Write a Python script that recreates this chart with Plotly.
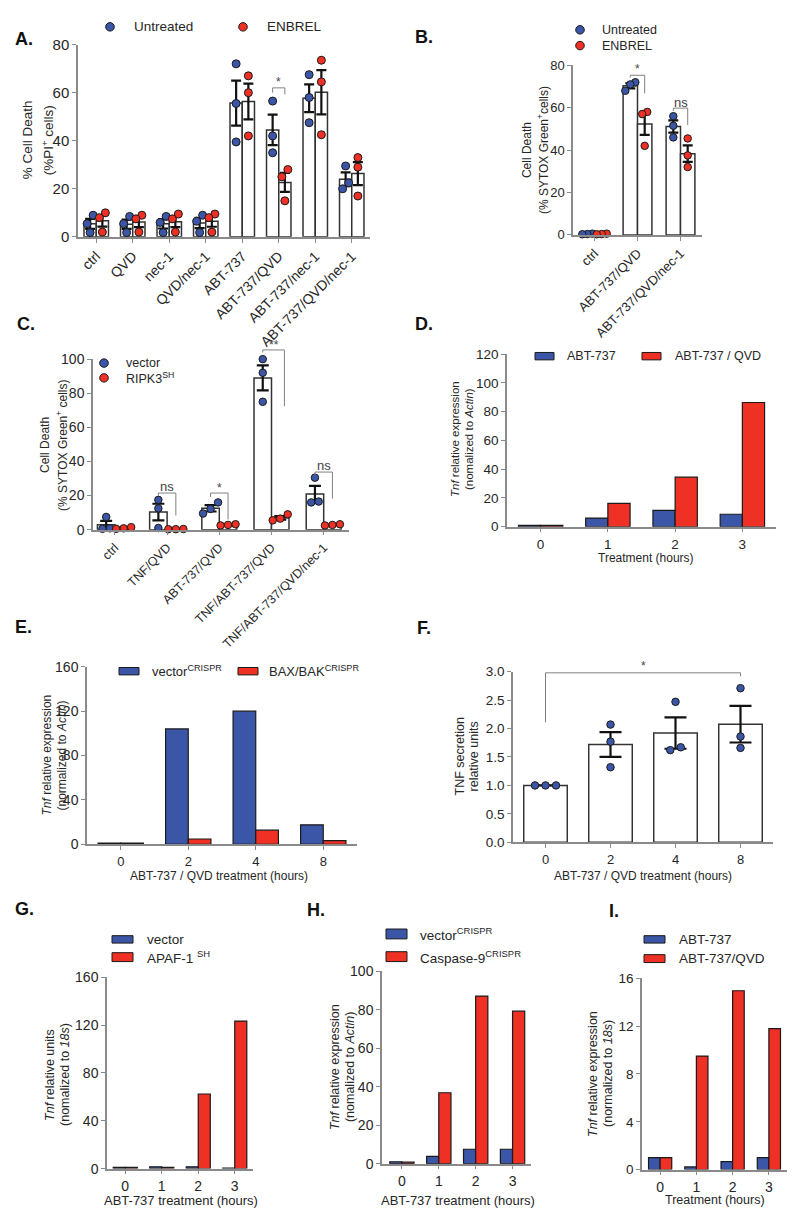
import numpy as np
import plotly.graph_objects as go

# the page places the figure at (8, 8); reference pixel coords are mapped accordingly
OX, OY = 8, 8
FW, FH = 784, 1212
BLUE = "#3B56A6"
RED = "#EE3124"
FONT = "Arial, Liberation Sans, sans-serif"
AXIS_GRAY = "#8a8a8a"
TEXT = "#262626"

# ---------------- data ----------------
A_categories = ["ctrl", "QVD", "nec-1", "QVD/nec-1", "ABT-737", "ABT-737/QVD",
                "ABT-737/nec-1", "ABT-737/QVD/nec-1"]
A_untreated = [[9.0, 5.5, 1.8], [8.5, 5.5, 1.8], [8.5, 6.0, 1.8], [9.0, 6.5, 1.8],
               [72.0, 55.5, 39.5], [56.5, 42.0, 35.0], [67.5, 58.0, 47.5], [29.5, 22.5, 20.0]]
A_enbrel = [[10.0, 8.0, 2.0], [9.0, 7.5, 2.0], [9.5, 7.5, 2.0], [9.5, 8.0, 2.0],
            [67.0, 60.0, 42.0], [28.0, 25.0, 15.0], [73.5, 64.5, 42.5], [33.0, 29.0, 17.0]]

B_categories = ["ctrl", "ABT-737/QVD", "ABT-737/QVD/nec-1"]
B_untreated = [[0.6, 0.4, 0.3], [72.0, 71.0, 68.0], [56.0, 51.5, 46.0]]
B_enbrel = [[0.6, 0.4, 0.3], [58.0, 57.0, 42.0], [45.5, 37.5, 32.0]]

C_categories = ["ctrl", "TNF/QVD", "ABT-737/QVD", "TNF/ABT-737/QVD", "TNF/ABT-737/QVD/nec-1"]
C_vector = [[7.5, 0.8, 0.5], [17.5, 12.5, 1.0], [16.0, 12.2, 9.5], [100.0, 92.0, 75.0], [30.5, 16.0, 16.5]]
C_ripk3 = [[1.5, 0.8, 0.5], [0.4, 0.3, 0.3], [3.2, 2.8, 2.5], [9.0, 6.5, 5.5], [3.2, 2.8, 2.5]]

D_hours = ["0", "1", "2", "3"]
D_abt737 = [1.0, 6.0, 11.4, 8.7]
D_abt737_qvd = [1.0, 16.2, 34.5, 86.4]

E_hours = ["0", "2", "4", "8"]
E_vector = [1.0, 104.0, 120.0, 17.5]
E_baxbak = [1.0, 4.7, 12.7, 3.2]

F_hours = ["0", "2", "4", "8"]
F_values = [[1.0, 1.0, 1.0], [2.07, 1.77, 1.32], [2.47, 1.62, 1.67], [2.71, 1.86, 1.66]]

G_hours = ["0", "1", "2", "3"]
G_vector = [1.0, 1.5, 1.5, 0.5]
G_apaf1 = [1.0, 1.0, 62.4, 123.4]

H_hours = ["0", "1", "2", "3"]
H_vector = [1.0, 3.8, 7.5, 7.5]
H_casp9 = [0.8, 36.9, 87.2, 79.3]

I_hours = ["0", "1", "2", "3"]
I_abt737 = [1.0, 0.22, 0.66, 1.0]
I_abt737_qvd = [1.0, 9.5, 14.96, 11.8]

# ---------------- layout geometry (reference pixels) ----------------
PANELS = {
    "A": dict(n=1, px=(78, 370), py=(36, 231), xr=(-0.5, 7.5), yr=(0, 80), dtick=20, tick=15, cat=14, angle=-45),
    "B": dict(n=2, px=(573, 702), py=(57, 229), xr=(-0.5, 2.5), yr=(0, 80), dtick=20, tick=13, cat=13, angle=-45),
    "C": dict(n=3, px=(93, 349), py=(355, 528), xr=(-0.42, 4.485), yr=(0, 100), dtick=20, tick=14, cat=12.5, angle=-45),
    "D": dict(n=4, px=(507, 776), py=(350, 525), xr=(-0.5, 3.5), yr=(0, 120), dtick=20, tick=13.5, cat=13.5, angle=0),
    "E": dict(n=5, px=(87, 357), py=(667, 847), xr=(-0.5, 3.5), yr=(0, 160), dtick=40, tick=14, cat=13, angle=0),
    "F": dict(n=6, px=(513, 773), py=(672, 845), xr=(-0.5, 3.5), yr=(0, 3), dtick=0.5, tick=13.5, cat=13, angle=0, fmt=".1f"),
    "G": dict(n=7, px=(107, 253), py=(982, 1176), xr=(-0.5, 3.5), yr=(0, 160), dtick=40, tick=14, cat=14, angle=0),
    "H": dict(n=8, px=(382, 531), py=(976, 1171), xr=(-0.54, 3.5), yr=(0, 100), dtick=20, tick=14, cat=14, angle=0),
    "I": dict(n=9, px=(642, 787), py=(983, 1177), xr=(-0.5, 3.5), yr=(0, 16), dtick=4, tick=13.5, cat=14, angle=0),
}

fig = go.Figure()
axes = {}
annotations = []
shapes = []


def X(px):
    return (px - OX) / FW


def Y(py):
    return 1 - (py - OY) / FH


def names(n):
    if n == 1:
        return "xaxis", "yaxis", "x", "y"
    return f"xaxis{n}", f"yaxis{n}", f"x{n}", f"y{n}"


def to_px(P, xv, yv):
    (x0, x1), (y0, y1) = P["px"], P["py"]
    (a0, a1), (b0, b1) = P["xr"], P["yr"]
    px = x0 + (xv - a0) / (a1 - a0) * (x1 - x0)
    py = y1 - (yv - b0) / (b1 - b0) * (y1 - y0)
    return px, py


def setup_axes(P, ticktext):
    xa, ya, xr_, yr_ = names(P["n"])
    common = dict(showline=True, linecolor=AXIS_GRAY, linewidth=1.5, ticks="outside", ticklen=4,
                  tickwidth=1.2, tickcolor=AXIS_GRAY, showgrid=False, zeroline=False, fixedrange=True)
    axes[xa] = dict(domain=[X(P["px"][0]), X(P["px"][1])], range=list(P["xr"]), anchor=yr_,
                    tickmode="array", tickvals=list(range(len(ticktext))), ticktext=ticktext,
                    tickangle=P["angle"], tickfont=dict(size=P["cat"], color=TEXT, family=FONT), **common)
    axes[ya] = dict(domain=[Y(P["py"][1]), Y(P["py"][0])], range=list(P["yr"]), anchor=xr_,
                    tick0=0, dtick=P["dtick"], tickformat=P.get("fmt", ""),
                    tickfont=dict(size=P["tick"], color=TEXT, family=FONT), **common)


def dodge(vals, ppu_y, diam, step):
    vals = np.asarray(vals, dtype=float)
    order = np.argsort(vals)
    offs = np.zeros(len(vals))
    clusters, cur = [], [order[0]]
    for a, b in zip(order[:-1], order[1:]):
        if (vals[b] - vals[a]) * ppu_y < diam * 1.1:
            cur.append(b)
        else:
            clusters.append(cur)
            cur = [b]
    clusters.append(cur)
    for c in clusters:
        k = len(c)
        for j, idx in enumerate(c):
            offs[idx] = (j - (k - 1) / 2) * step
    return offs


def dot_panel(P, series, colors, width, step, cap, diam=7.5):
    _, _, xr_, yr_ = names(P["n"])
    k = len(series)
    ppu_x = (P["px"][1] - P["px"][0]) / (P["xr"][1] - P["xr"][0])
    ppu_y = (P["py"][1] - P["py"][0]) / (P["yr"][1] - P["yr"][0])
    for s, (vals, col) in enumerate(zip(series, colors)):
        xs = np.arange(len(vals)) + (s - (k - 1) / 2) * width
        means = [float(np.mean(v)) for v in vals]
        sems = [float(np.std(v, ddof=1) / np.sqrt(len(v))) for v in vals]
        fig.add_trace(go.Bar(x=xs, y=means, width=width, xaxis=xr_, yaxis=yr_, showlegend=False,
                             marker=dict(color="white", line=dict(color="#333333", width=1.5)),
                             error_y=dict(type="data", array=sems, color="#111111", thickness=2.2, width=cap)))
        px_, py_ = [], []
        for i, v in enumerate(vals):
            offs = dodge(v, ppu_y, diam, step)
            px_ += list(xs[i] + offs / ppu_x)
            py_ += list(v)
        fig.add_trace(go.Scatter(x=px_, y=py_, mode="markers", xaxis=xr_, yaxis=yr_, showlegend=False,
                                 cliponaxis=False,
                                 marker=dict(size=diam, color=col, line=dict(color="#1a1a1a", width=1))))


def bar_panel(P, series, colors, width):
    _, _, xr_, yr_ = names(P["n"])
    k = len(series)
    for s, (vals, col) in enumerate(zip(series, colors)):
        xs = np.arange(len(vals)) + (s - (k - 1) / 2) * width
        fig.add_trace(go.Bar(x=xs, y=vals, width=width, xaxis=xr_, yaxis=yr_, showlegend=False,
                             marker=dict(color=col, line=dict(color="#1a1a1a", width=1.2))))


def text(x, y, t, size=13, xanchor="left", angle=0, bold=False, color=TEXT):
    if bold:
        t = f"<b>{t}</b>"
    annotations.append(dict(text=t, x=X(x), y=Y(y), xref="paper", yref="paper",
                            xanchor=xanchor, yanchor="middle", showarrow=False, textangle=angle,
                            font=dict(size=size, color=color, family=FONT)))


def legend_circle(cx, cy, color, label, tx, size=13, r=4.3):
    shapes.append(dict(type="circle", xref="paper", yref="paper", x0=X(cx - r), x1=X(cx + r),
                       y0=Y(cy + r), y1=Y(cy - r), fillcolor=color,
                       line=dict(color="#1a1a1a", width=1)))
    text(tx, cy, label, size)


def legend_rect(x0, x1, cy, h, color, label, tx, size=13):
    shapes.append(dict(type="rect", xref="paper", yref="paper", x0=X(x0), x1=X(x1),
                       y0=Y(cy + h / 2), y1=Y(cy - h / 2), fillcolor=color,
                       line=dict(color="#1a1a1a", width=1)))
    text(tx, cy, label, size)


def ytitle(xs, cy, lines, size):
    for x, t in zip(xs, lines):
        text(x, cy, t, size, xanchor="center", angle=-90)


def bracket(P, xl, xr, y, yl, yrr, label, label_y, size=12):
    pts = [to_px(P, xl, yl), to_px(P, xl, y), to_px(P, xr, y), to_px(P, xr, yrr)]
    path = "M " + " L ".join(f"{X(a):.5f},{Y(b):.5f}" for a, b in pts)
    shapes.append(dict(type="path", path=path, xref="paper", yref="paper",
                       line=dict(color="#808080", width=1)))
    lx, ly = to_px(P, (xl + xr) / 2, label_y)
    text(lx, ly, label, size, xanchor="center", color="#444444")


# ---------------- Panel A ----------------
P = PANELS["A"]
setup_axes(P, A_categories)
dot_panel(P, [A_untreated, A_enbrel], [BLUE, RED], width=0.335, step=6, cap=5, diam=8)
wA = 0.335 / 2
bracket(P, 5 - wA, 5 + wA, 62, 60, 59.3, "*", 64.3)
legend_circle(110, 18, BLUE, "Untreated", 132, 13.5)
legend_circle(243, 18, RED, "ENBREL", 265, 13.5)
ytitle([27, 48], 133, ["% Cell Death", "(%PI<sup>+</sup> cells)"], 13.5)
text(13, 30, "A.", 18, bold=True, color="#111")

# ---------------- Panel B ----------------
P = PANELS["B"]
setup_axes(P, B_categories)
dot_panel(P, [B_untreated, B_enbrel], [BLUE, RED], width=0.335, step=5, cap=5)
wB = 0.335 / 2
bracket(P, 1 - wB, 1 + wB, 75.3, 74.3, 66.8, "*", 78.3)
bracket(P, 2 - wB, 2 + wB, 59.8, 58.5, 51.8, "ns", 62.6, 13)
legend_circle(580, 21, BLUE, "Untreated", 600, 12.5)
legend_circle(580, 37, RED, "ENBREL", 600, 12.5)
ytitle([527, 543], 143, ["Cell Death", "(% SYTOX Green<sup>+</sup>cells)"], 12)
text(413, 28, "B.", 18, bold=True, color="#111")

# ---------------- Panel C ----------------
P = PANELS["C"]
setup_axes(P, C_categories)
dot_panel(P, [C_vector, C_ripk3], [BLUE, RED], width=0.335, step=7.5, cap=6)
wC = 0.335 / 2
bracket(P, 1 - wC, 1 + wC, 21.5, 20, 8.3, "ns", 25.3, 13)
bracket(P, 2 - wC, 2 + wC, 21.5, 19.2, 6.0, "*", 24.3)
bracket(P, 3 - wC, 3 + wC + 0.08, 105.4, 103.9, 72.4, "**", 108.3)
bracket(P, 4 - wC, 4 + wC, 33.8, 31.9, 18.3, "ns", 37.6, 13)
legend_circle(104, 359, BLUE, "vector", 124, 12.5)
legend_circle(104, 374, RED, "RIPK3<sup>SH</sup>", 124, 12.5)
ytitle([45, 62], 442, ["Cell Death", "(% SYTOX Green<sup>+</sup> cells)"], 12)
text(15, 319, "C.", 18, bold=True, color="#111")

# ---------------- Panel D ----------------
P = PANELS["D"]
setup_axes(P, D_hours)
bar_panel(P, [D_abt737, D_abt737_qvd], [BLUE, RED], width=0.33)
legend_rect(535, 554, 352, 7.5, BLUE, "ABT-737", 565, 12.5)
legend_rect(642, 661, 352, 7.5, RED, "ABT-737 / QVD", 673, 12.5)
ytitle([455, 469], 436, ["<i>Tnf</i> relative expression", "(nomalized to <i>Actin</i>)"], 11.5)
text(646, 557, "Treatment (hours)", 12, xanchor="center")
text(413, 319, "D.", 18, bold=True, color="#111")

# ---------------- Panel E ----------------
P = PANELS["E"]
setup_axes(P, E_hours)
bar_panel(P, [E_vector, E_baxbak], [BLUE, RED], width=0.336)
legend_rect(119, 139, 671.5, 7.5, BLUE, "vector<sup>CRISPR</sup>", 150, 13)
legend_rect(238, 258, 671.5, 7.5, RED, "BAX/BAK<sup>CRISPR</sup>", 267, 13)
ytitle([47, 62], 757, ["<i>Tnf</i> relative expression", "(normalized to <i>Actin</i>)"], 12)
text(219, 879, "ABT-737 / QVD treatment (hours)", 12, xanchor="center")
text(13, 627, "E.", 18, bold=True, color="#111")

# ---------------- Panel F ----------------
P = PANELS["F"]
setup_axes(P, F_hours)
dot_panel(P, [F_values], [BLUE], width=0.67, step=10.5, cap=11)
bracket(P, 0, 3, 2.98, 2.11, 2.92, "*", 3.1, 12)
ytitle([460, 474], 758, ["TNF secretion", "relative units"], 12.5)
text(643, 879, "ABT-737 / QVD treatment (hours)", 12, xanchor="center")
text(415, 628, "F.", 18, bold=True, color="#111")

# ---------------- Panel G ----------------
P = PANELS["G"]
setup_axes(P, G_hours)
bar_panel(P, [G_vector, G_apaf1], [BLUE, RED], width=0.33)
legend_rect(112, 133, 943.5, 7.5, BLUE, "vector", 145, 13.5)
legend_rect(112, 133, 961.5, 9, RED, "APAF-1 <sup>SH</sup>", 145, 13.5)
ytitle([50, 65], 1081, ["<i>Tnf</i> relative units", "(nomalized to <i>18s</i>)"], 12.5)
text(181, 1208, "ABT-737 treatment (hours)", 13, xanchor="center")
text(13, 913, "G.", 18, bold=True, color="#111")

# ---------------- Panel H ----------------
P = PANELS["H"]
setup_axes(P, H_hours)
bar_panel(P, [H_vector, H_casp9], [BLUE, RED], width=0.33)
legend_rect(386, 407, 938, 10, BLUE, "vector<sup>CRISPR</sup>", 418, 13.5)
legend_rect(386, 407, 961, 10, RED, "Caspase-9<sup>CRISPR</sup>", 418, 13.5)
ytitle([335, 350], 1073, ["<i>Tnf</i> relative expression", "(nomalized to <i>Actin</i>)"], 12.5)
text(458, 1208, "ABT-737 treatment (hours)", 13, xanchor="center")
text(305, 914, "H.", 18, bold=True, color="#111")

# ---------------- Panel I ----------------
P = PANELS["I"]
setup_axes(P, I_hours)
bar_panel(P, [I_abt737, I_abt737_qvd], [BLUE, RED], width=0.32)
legend_rect(644, 665, 943.5, 7.5, BLUE, "ABT-737", 677, 13.5)
legend_rect(644, 665, 963, 8, RED, "ABT-737/QVD", 677, 13.5)
ytitle([593, 608], 1080, ["<i>Tnf</i> relative expression", "(normalized to <i>18s</i>)"], 12.5)
text(715, 1208, "Treatment (hours)", 12.5, xanchor="center")
text(607, 915, "I.", 18, bold=True, color="#111")

fig.update_layout(
    width=FW, height=FH, margin=dict(l=0, r=0, t=0, b=0),
    paper_bgcolor="white", plot_bgcolor="white",
    barmode="overlay", showlegend=False,
    font=dict(family=FONT, color=TEXT),
    annotations=annotations, shapes=shapes,
    **axes,
)

fig.write_html("out.html", config={"displayModeBar": False})
